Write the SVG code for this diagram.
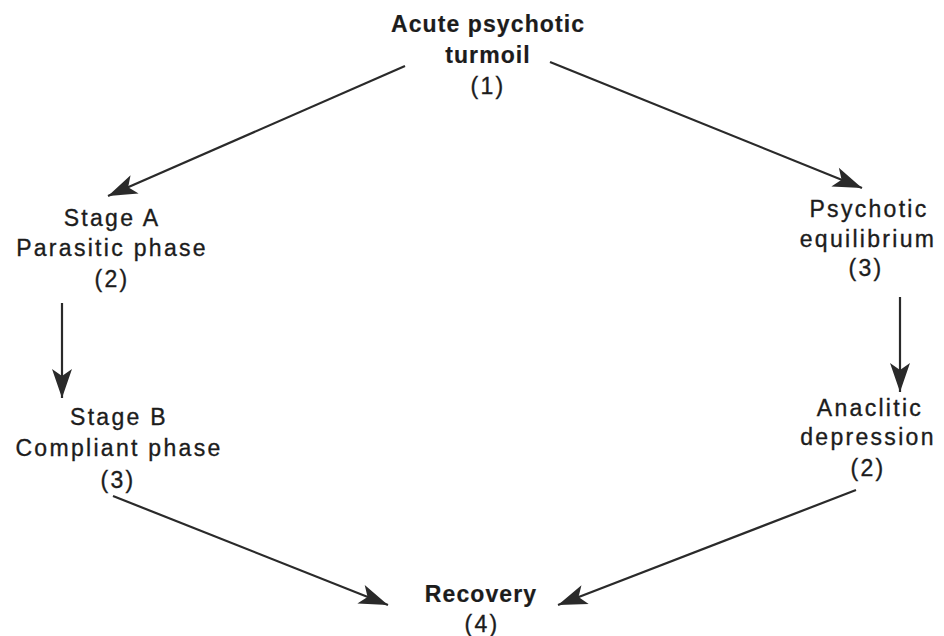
<svg xmlns="http://www.w3.org/2000/svg" width="944" height="636" viewBox="0 0 944 636">
  <style>
    .t { font-family: "Liberation Sans", Arial, Helvetica, sans-serif; font-size: 23px; fill: #1c1c1c; stroke: #1c1c1c; stroke-width: 0.35px; text-anchor: middle; letter-spacing: 2.3px; }
    .b { font-weight: bold; stroke-width: 0.2px; letter-spacing: 1.1px; }
    .edge { stroke: #2a2a2a; stroke-width: 2.2; fill: none; marker-end: url(#head); }
  </style>
  <defs>
    <!-- barbed arrowhead, tip at the line's end -->
    <marker id="head" markerUnits="userSpaceOnUse" viewBox="-30 -11 32 22" refX="0" refY="0" markerWidth="32" markerHeight="22" orient="auto">
      <path d="M0,0 L-29,-10 L-22,0 L-29,10 Z" fill="#2a2a2a"/>
    </marker>
  </defs>

  <g id="connectors">
    <line class="edge" x1="405" y1="66" x2="108" y2="196"/>
    <line class="edge" x1="550" y1="62" x2="862" y2="188"/>
    <line class="edge" x1="62" y1="303" x2="62" y2="398"/>
    <line class="edge" x1="900" y1="297" x2="900" y2="392"/>
    <line class="edge" x1="113" y1="496" x2="388" y2="605"/>
    <line class="edge" x1="856" y1="490" x2="558" y2="605"/>
  </g>

  <g id="node-turmoil">
    <text class="t b" x="488" y="32">Acute psychotic</text>
    <text class="t b" x="488" y="63">turmoil</text>
    <text class="t" x="488" y="94">(1)</text>
  </g>

  <g id="node-stage-a">
    <text class="t" x="112" y="226">Stage A</text>
    <text class="t" x="112" y="256">Parasitic phase</text>
    <text class="t" x="112" y="287">(2)</text>
  </g>

  <g id="node-stage-b">
    <text class="t" x="119" y="425">Stage B</text>
    <text class="t" x="119" y="456">Compliant phase</text>
    <text class="t" x="118" y="488">(3)</text>
  </g>

  <g id="node-equilibrium">
    <text class="t" x="869" y="217">Psychotic</text>
    <text class="t" x="868" y="247">equilibrium</text>
    <text class="t" x="866" y="276">(3)</text>
  </g>

  <g id="node-depression">
    <text class="t" x="870" y="416">Anaclitic</text>
    <text class="t" x="868" y="445">depression</text>
    <text class="t" x="868" y="476">(2)</text>
  </g>

  <g id="node-recovery">
    <text class="t b" x="481" y="602">Recovery</text>
    <text class="t" x="482" y="632">(4)</text>
  </g>
</svg>
